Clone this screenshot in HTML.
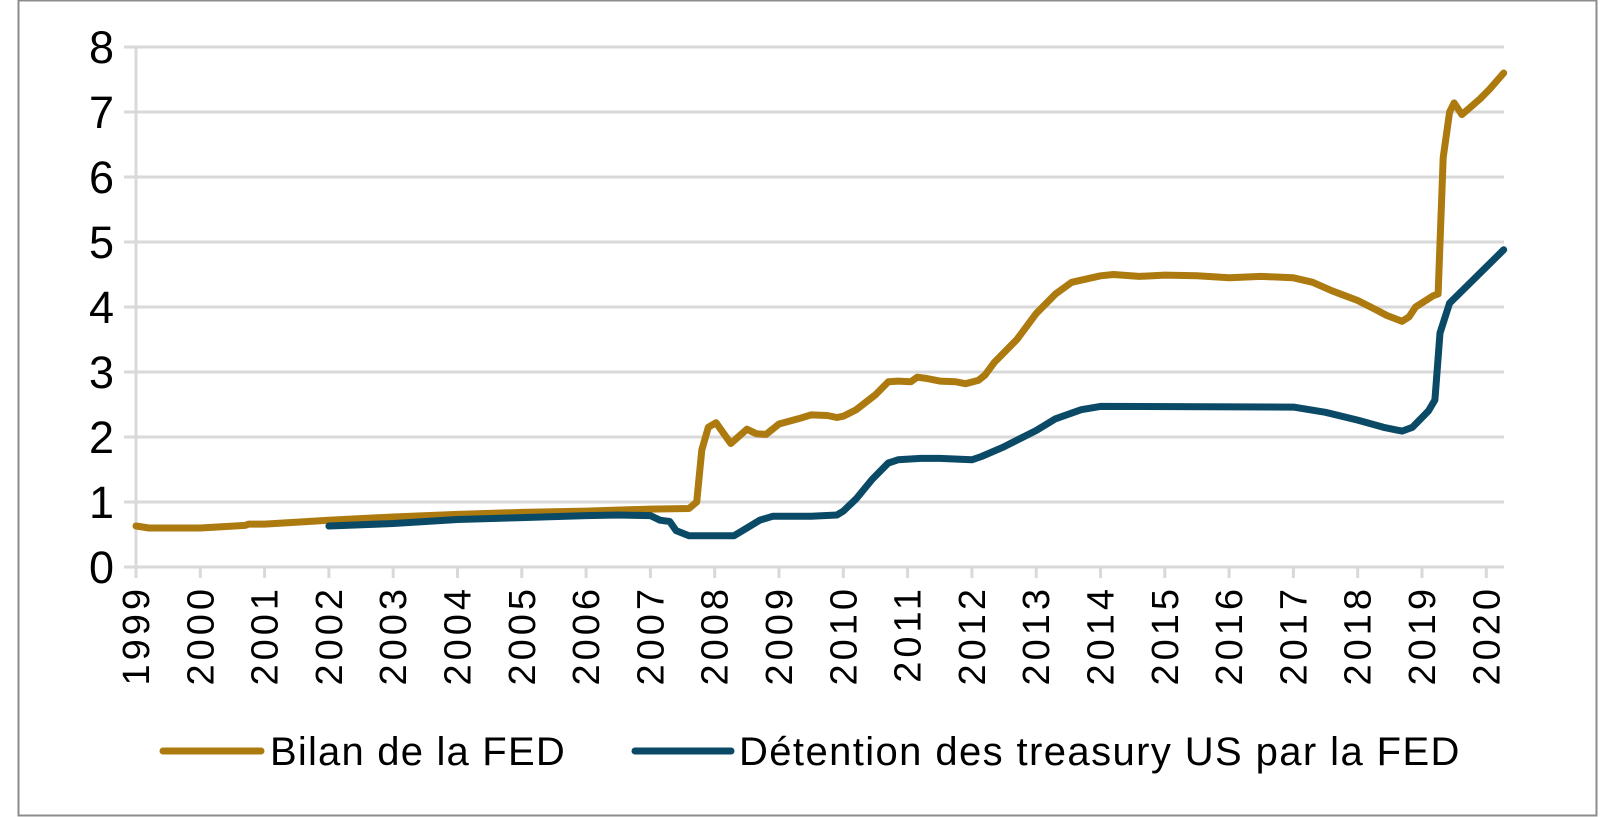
<!DOCTYPE html>
<html><head><meta charset="utf-8"><style>
html,body{margin:0;padding:0;background:#fff;}
svg{display:block;font-family:"Liberation Sans",sans-serif;}
</style></head><body>
<svg id="chart" width="1600" height="817" viewBox="0 0 1600 817">
<rect x="18.5" y="0.5" width="1578" height="815" fill="#fff" stroke="#8c8c8c" stroke-width="2"/>
<g id="grid"></g><g id="axes"></g><g id="series"></g>
<g>
<line x1="163" y1="751" x2="261" y2="751" stroke="#AD7A0F" stroke-width="7" stroke-linecap="round"/>
<text x="270" y="765" font-size="40" letter-spacing="1.2" fill="#000">Bilan de la FED</text>
<line x1="635" y1="751" x2="731" y2="751" stroke="#0A4A66" stroke-width="7" stroke-linecap="round"/>
<text x="739" y="765" font-size="40" letter-spacing="1.4" fill="#000">Détention des treasury US par la FED</text>
</g>
</svg>
<script>
const yTicks=[0,1,2,3,4,5,6,7,8];
const xYears=[1999,2000,2001,2002,2003,2004,2005,2006,2007,2008,2009,2010,2011,2012,2013,2014,2015,2016,2017,2018,2019,2020];
const bilanT=[1999,1999.2,1999.6,2000,2000.7,2000.75,2001,2002,2003,2004,2005,2006,2007,2007.6,2007.72,2007.8,2007.9,2008.02,2008.25,2008.5,2008.65,2008.8,2009,2009.3,2009.5,2009.75,2009.9,2010,2010.2,2010.5,2010.7,2010.85,2011.05,2011.15,2011.3,2011.5,2011.75,2011.9,2012.1,2012.2,2012.35,2012.7,2013,2013.3,2013.55,2014,2014.2,2014.6,2015,2015.5,2016,2016.5,2017,2017.3,2017.6,2018,2018.3,2018.45,2018.69,2018.8,2018.9,2019.17,2019.25,2019.33,2019.43,2019.5,2019.62,2019.9,2020.05,2020.27];
const bilanV=[0.63,0.6,0.6,0.6,0.64,0.66,0.66,0.72,0.77,0.81,0.84,0.86,0.89,0.9,1.0,1.8,2.15,2.22,1.9,2.12,2.05,2.04,2.2,2.28,2.34,2.33,2.3,2.32,2.42,2.65,2.85,2.86,2.85,2.92,2.9,2.86,2.85,2.82,2.87,2.95,3.15,3.5,3.9,4.2,4.38,4.48,4.5,4.47,4.49,4.48,4.45,4.47,4.45,4.38,4.25,4.1,3.95,3.87,3.78,3.85,4.0,4.17,4.2,6.3,7.0,7.14,6.96,7.2,7.35,7.6];
const treasT=[2002,2003,2004,2005,2006,2006.5,2007,2007.15,2007.3,2007.4,2007.6,2008.3,2008.5,2008.7,2008.9,2009.5,2009.9,2010,2010.2,2010.45,2010.7,2010.85,2011.2,2011.5,2012,2012.15,2012.5,2013,2013.3,2013.7,2014,2017,2017.5,2018,2018.4,2018.69,2018.85,2019.1,2019.2,2019.28,2019.43,2020.27];
const treasV=[0.63,0.67,0.73,0.76,0.79,0.8,0.79,0.72,0.7,0.56,0.48,0.48,0.6,0.72,0.78,0.78,0.8,0.86,1.05,1.35,1.6,1.65,1.67,1.67,1.65,1.7,1.85,2.1,2.28,2.42,2.47,2.46,2.38,2.26,2.15,2.09,2.15,2.4,2.57,3.6,4.06,4.88];
const NS="http://www.w3.org/2000/svg";
const X0=136,XS=64.3,Y0=567,YS=65,XR=1504;
const xs=t=>X0+(t-1999)*XS, ys=v=>Y0-v*YS;
function mk(tag,attrs,parent){const e=document.createElementNS(NS,tag);for(const k in attrs)e.setAttribute(k,attrs[k]);parent.appendChild(e);return e;}
const grid=document.getElementById('grid'),axes=document.getElementById('axes'),ser=document.getElementById('series');
yTicks.forEach(v=>{
  const l=mk('line',{x1:X0-12,x2:XR,y1:ys(v),y2:ys(v),stroke:'#d9d9d9','stroke-width':3},grid);
  
  
  const t=mk('text',{x:114,y:ys(v)+16,'text-anchor':'end','font-size':45,fill:'#000'},axes);
  t.textContent=v;
  
  
});
const ax=mk('line',{x1:X0,x2:X0,y1:ys(8),y2:Y0,stroke:'#d9d9d9','stroke-width':3},grid);


xYears.forEach(y=>{
  const x=xs(y);
  const tk=mk('line',{x1:x,x2:x,y1:Y0,y2:Y0+11,stroke:'#d9d9d9','stroke-width':3},grid);
  
  
  const t=mk('text',{x:0,y:0,'text-anchor':'end','font-size':38,'letter-spacing':4,fill:'#000',transform:`translate(${x+13},${Y0+18}) rotate(-90)`},axes);
  t.textContent=y;
  
  
});
function path(T,V,color,name){
  const d=T.map((t,i)=>(i?'L':'M')+xs(t).toFixed(1)+','+ys(V[i]).toFixed(1)).join(' ');
  const p=mk('path',{d:d,fill:'none',stroke:color,'stroke-width':7,'stroke-linejoin':'round','stroke-linecap':'round'},ser);
  
  
}
path(bilanT,bilanV,'#AD7A0F','line-bilan-fed');
path(treasT,treasV,'#0A4A66','line-treasury-holdings');
</script>
</body></html>
